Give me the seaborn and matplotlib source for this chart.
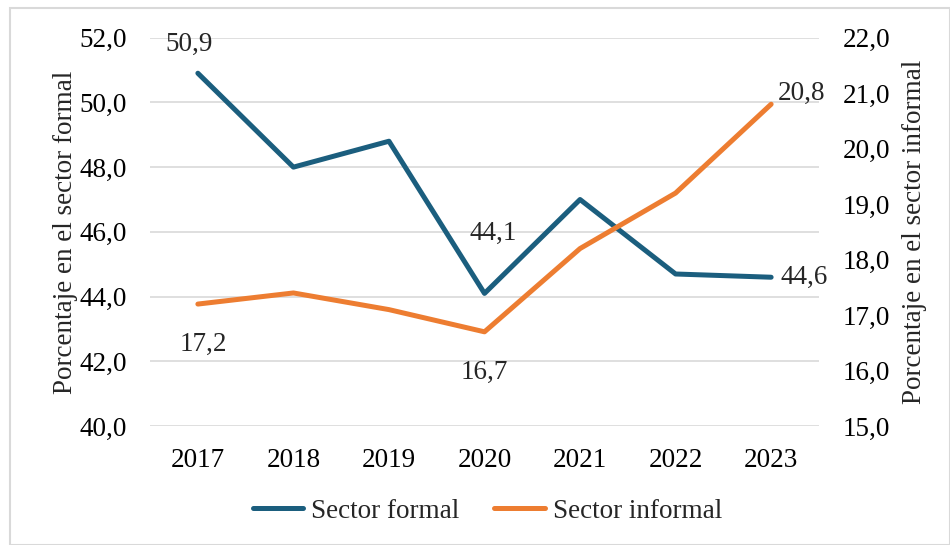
import matplotlib
matplotlib.use("Agg")
import matplotlib.pyplot as plt
import matplotlib.ticker as mticker
import seaborn as sns
import pandas as pd

# Data
years = ["2017", "2018", "2019", "2020", "2021", "2022", "2023"]
formal = [50.9, 48.0, 48.8, 44.1, 47.0, 44.7, 44.6]
informal = [17.2, 17.4, 17.1, 16.7, 18.2, 19.2, 20.8]

blue = "#1B5E7E"
orange = "#ED7D31"
FS = 19.5

sns.set_theme(style="white")
plt.rcParams["font.family"] = ["Liberation Serif", "DejaVu Serif"]

df = pd.DataFrame({"year": years, "formal": formal, "informal": informal})

fig = plt.figure(figsize=(9.5, 5.45), dpi=100)
ax = fig.add_axes([0.158, 0.218, 0.704, 0.713])
ax2 = ax.twinx()

sns.lineplot(data=df, x="year", y="formal", ax=ax, color=blue, linewidth=3.6,
             label="Sector formal", legend=False)
sns.lineplot(data=df, x="year", y="informal", ax=ax2, color=orange, linewidth=3.6,
             label="Sector informal", legend=False)

ax.set_xlim(-0.5, len(years) - 0.5)
ax.set_ylim(40, 52)
ax2.set_ylim(15, 22)
ax.yaxis.set_major_locator(mticker.MultipleLocator(2))
ax2.yaxis.set_major_locator(mticker.MultipleLocator(1))
comma = mticker.FuncFormatter(lambda v, p: f"{v:.1f}".replace(".", ","))
ax.yaxis.set_major_formatter(comma)
ax2.yaxis.set_major_formatter(comma)

ax.grid(axis="y", color="#D9D9D9", linewidth=1.2)
ax.set_axisbelow(True)
for a in (ax, ax2):
    for s in a.spines.values():
        s.set_visible(False)
    a.tick_params(length=0, labelsize=FS, colors="black")
ax.tick_params(axis="x", pad=16)
ax.tick_params(axis="y", pad=16.5)
ax2.tick_params(axis="y", pad=17)

ax.set_xlabel("")
ax.set_ylabel("Porcentaje en el sector formal", fontsize=FS)
ax2.set_ylabel("Porcentaje en el sector informal", fontsize=FS)
ax.yaxis.set_label_coords(-0.108, 0.5)
ax2.yaxis.set_label_coords(1.124, 0.5)

# Data labels on selected points (offsets in points)
fmt = lambda v: f"{v:.1f}".replace(".", ",")
labels_formal = [(0, -6, 21), (3, 6.5, 43), (6, 24, 0)]
labels_informal = [(0, 3.6, -29), (3, 0, -29), (6, 21.6, 7.5)]
for i, dx, dy in labels_formal:
    ax.annotate(fmt(formal[i]), (i, formal[i]), xytext=(dx, dy), textcoords="offset points",
                ha="center", va="center", fontsize=FS)
for i, dx, dy in labels_informal:
    ax2.annotate(fmt(informal[i]), (i, informal[i]), xytext=(dx, dy), textcoords="offset points",
                 ha="center", va="center", fontsize=FS)

handles = ax.get_lines()[:1] + ax2.get_lines()[:1]
fig.legend(handles, ["Sector formal", "Sector informal"], loc="center",
           bbox_to_anchor=(0.513, 0.062), ncol=2, frameon=False, fontsize=FS,
           handlelength=1.85, columnspacing=1.3, handletextpad=0.3)

# light frame around the chart area
fig.patches.append(plt.Rectangle((0.011, 0.0), 0.989, 0.985, transform=fig.transFigure,
                                 fill=False, edgecolor="#D9D9D9", linewidth=1.5))

fig.savefig("out.png", dpi=100)
